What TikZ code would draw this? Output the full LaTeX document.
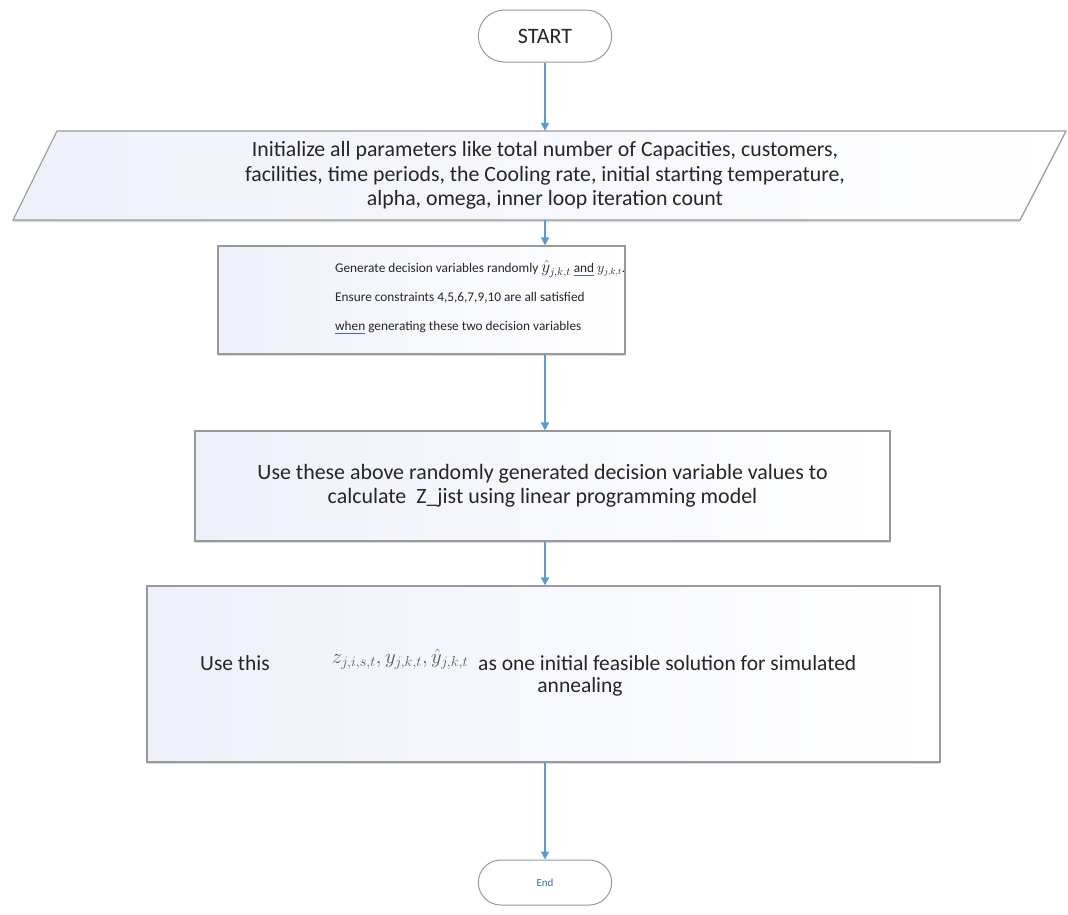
\documentclass[tikz,border=0pt]{standalone}
\usepackage{fontspec}
\setmainfont{Carlito}
\usetikzlibrary{shapes.misc,shadows,arrows.meta}
\definecolor{flowblue}{HTML}{5B9BD5}
\definecolor{edgegray}{HTML}{9A9A9A}
\definecolor{inkgray}{HTML}{262626}
\definecolor{tint}{HTML}{EEF1FA}
\definecolor{ulblue}{HTML}{4A5FC0}
\definecolor{endblue}{HTML}{2E6DB4}
% thin blue proofing underline under a word
\newcommand\markul[1]{\setbox0\hbox{#1}\rlap{\textcolor{ulblue}{\rule[-2.4pt]{\wd0}{0.7pt}}}\box0\relax}
\begin{document}
\begin{tikzpicture}[x=1pt,y=-1pt,
  font=\fontsize{21.8}{24.5}\selectfont, text=inkgray,
  terminal/.style={rounded rectangle, draw=edgegray, line width=1pt, fill=white,
    minimum width=140pt},
  stepbox/.style={rectangle, draw=edgegray, line width=1.1pt, left color=tint, right color=white,
    drop shadow={shadow xshift=0pt, shadow yshift=-2pt, fill=black!30, opacity=0.5}},
  plain/.style={inner sep=0pt},
  flow/.style={draw=flowblue, line width=1.5pt, -{Triangle[length=8pt,width=8pt]}}]
\useasboundingbox (0,0) rectangle (1068,914);

% terminals
\node[terminal, minimum height=52pt, font=\fontsize{22}{24}\selectfont] (start) at (545,36) {START};
\node[terminal, minimum height=45pt, font=\fontsize{11}{13}\selectfont, text=endblue] (finish) at (545,882.5) {End};

% input parallelogram
\path[stepbox] (57,131) -- (1066,131) -- (1020,220) -- (13,220) -- cycle;
\node[minimum width=900pt, minimum height=89pt, align=center] (params) at (545,175.5)
  {Initialize all parameters like total number of Capacities, customers,\\
   facilities, time periods, the Cooling rate, initial starting temperature,\\
   alpha, omega, inner loop iteration count};

% random generation step
\node[stepbox, minimum width=407pt, minimum height=108pt] (gen) at (421.5,300) {};
\node[plain, anchor=west, align=left, font=\fontsize{13.3}{29}\selectfont] (gentext) at (335,297)
  {Generate decision variables randomly {\fontsize{16}{16}\selectfont$\hat{y}_{j,k,t}$} \markul{and} $y_{j,k,t}$.\\
   Ensure constraints 4,5,6,7,9,10 are all satisfied\\
   \markul{when} generating these two decision variables};

% linear programming step
\node[stepbox, minimum width=695pt, minimum height=110pt, align=center,
  font=\fontsize{21.9}{23.5}\selectfont] (lp) at (542.5,486)
  {Use these above randomly generated decision variable values to\\
   calculate\ \ Z\_jist using linear programming model};

% initial solution step
\node[stepbox, minimum width=793pt, minimum height=176pt] (init) at (543.5,674) {};
\node[plain, anchor=west, font=\fontsize{21.5}{24}\selectfont] (usethis) at (200,663) {Use this};
\node[plain, font=\fontsize{19.5}{19.5}\selectfont, text=black!65] (vars) at (400,659)
  {$z_{j,i,s,t}, y_{j,k,t}, \hat{y}_{j,k,t}$};
\node[plain, anchor=west, font=\fontsize{21.5}{24}\selectfont] (asone) at (478,663) {as one initial feasible solution for simulated};
\node[plain, font=\fontsize{21.5}{24}\selectfont] (anneal) at (580,687) {annealing};

% connectors
\draw[flow] (start.south) -- (params.north);
\draw[flow] (params.south) -- (params.south |- gen.north);
\draw[flow] (gen.south -| start) -- (lp.north -| start);
\draw[flow] (lp.south -| start) -- (init.north -| start);
\draw[flow] (init.south -| start) -- (finish.north);
\end{tikzpicture}
\end{document}
